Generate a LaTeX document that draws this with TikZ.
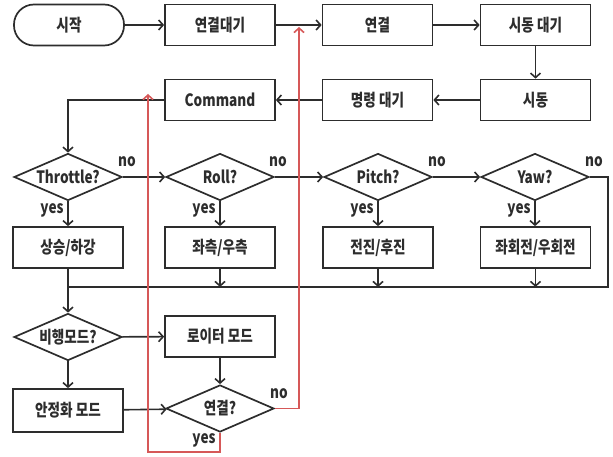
\documentclass[tikz,border=0pt]{standalone}
\usepackage{fontspec}
\setmainfont{Noto Sans CJK KR}[FakeStretch=0.8]
\usetikzlibrary{shapes.geometric,arrows.meta}
\definecolor{ink}{RGB}{45,45,45}
\definecolor{redline}{RGB}{214,88,88}
\newcommand\diagfont{\fontsize{17}{20}\selectfont\bfseries}
\begin{document}
\begin{tikzpicture}[x=1pt,y=-1pt,
  box/.style={draw=ink, line width=1.7pt, rectangle, minimum width=110pt, minimum height=41pt, inner sep=0pt, font=\diagfont, text=ink},
  term/.style={box, rounded corners=20pt},
  dia/.style={draw=ink, line width=1.7pt, diamond, aspect=2.3, minimum width=108pt, minimum height=47pt, inner sep=0pt, font=\diagfont, text=ink},
  lab/.style={font=\diagfont, text=ink, inner sep=0pt},
  flow/.style={draw=ink, line width=1.6pt, -{Straight Barb[length=4.5pt,width=10pt,line width=1.6pt]}},
  plain/.style={draw=ink, line width=1.6pt},
  back/.style={draw=redline, line width=1.6pt, -{Straight Barb[length=4.5pt,width=10pt,line width=1.6pt]}}
]
\useasboundingbox (0,0) rectangle (613,457);
% row 1
\node[term] (start) at (69,25) {시작};
\node[box] (wait) at (220,25) {연결대기};
\node[box] (conn) at (377.5,25) {연결};
\node[box] (swait) at (535.5,25) {시동 대기};
% row 2
\node[box] (cmd) at (220,100) {Command};
\node[box] (cwait) at (377.5,100) {명령 대기};
\node[box] (ign) at (535.5,100) {시동};
% decisions
\node[dia] (thr) at (68,177) {Throttle?};
\node[dia] (roll) at (220,177) {Roll?};
\node[dia] (pitch) at (378,177) {Pitch?};
\node[dia] (yaw) at (535,177) {Yaw?};
% actions
\node[box] (ud) at (68,247.5) {상승/하강};
\node[box] (lr) at (220,247.5) {좌측/우측};
\node[box] (fb) at (378,247.5) {전진/후진};
\node[box] (rot) at (535.5,247.5) {좌회전/우회전};
% modes
\node[dia] (fmode) at (68,337) {비행모드?};
\node[box] (loiter) at (220,336.5) {로이터 모드};
\node[box, minimum height=43pt] (stab) at (68,410.5) {안정화 모드};
\node[dia] (connq) at (220,408.5) {연결?};
% helper coordinates
\coordinate (cmdturn) at (68,100);
\coordinate (yawr) at (608,177);
\coordinate (yawd) at (608,287);
\coordinate (merge) at (68,287);
\coordinate (lrm) at (220,287);
\coordinate (fbm) at (378,287);
\coordinate (rotm) at (535.5,287);
\coordinate (noA) at (299,408.5);
\coordinate (noB) at (299,27);
\coordinate (yesA) at (220,452);
\coordinate (yesB) at (148,452);
\coordinate (yesC) at (148,94);
% connectors
\draw[flow] (start) -- (wait);
\draw[flow] (wait) -- (conn);
\draw[flow] (conn) -- (swait);
\draw[flow] (swait) -- (ign);
\draw[flow] (ign) -- (cwait);
\draw[flow] (cwait) -- (cmd);
\draw[flow] (cmd.west) -- (cmdturn) -- (thr.north);
\draw[flow] (thr) -- (roll);
\draw[flow] (roll) -- (pitch);
\draw[flow] (pitch) -- (yaw);
\draw[flow] (thr) -- (ud);
\draw[flow] (roll) -- (lr);
\draw[flow] (pitch) -- (fb);
\draw[flow] (yaw.south) -- (rot.north-|yaw.south);
\draw[plain] (yaw.east) -- (yawr) -- (yawd) -- (merge);
\draw[flow] (lr) -- (lrm);
\draw[flow] (fb) -- (fbm);
\draw[flow] (rot) -- (rotm);
\draw[flow] (ud) -- (fmode);
\draw[flow] (fmode) -- (loiter);
\draw[flow] (fmode) -- (stab);
\draw[flow] (loiter) -- (connq);
\draw[flow] (stab) -- (connq);
\draw[back] (connq.east) -- (noA) -- (noB);
\draw[back] (connq.south) -- (yesA) -- (yesB) -- (yesC);
% labels
\node[lab] (n1) at (127,162) {no};
\node[lab] (n2) at (278,162) {no};
\node[lab] (n3) at (437,162) {no};
\node[lab] (n4) at (594,162) {no};
\node[lab] (y1) at (52,210) {yes};
\node[lab] (y2) at (204,210) {yes};
\node[lab] (y3) at (362,210) {yes};
\node[lab] (y4) at (519,210) {yes};
\node[lab] (n5) at (279,394) {no};
\node[lab] (y5) at (204,440) {yes};
\end{tikzpicture}
\end{document}
